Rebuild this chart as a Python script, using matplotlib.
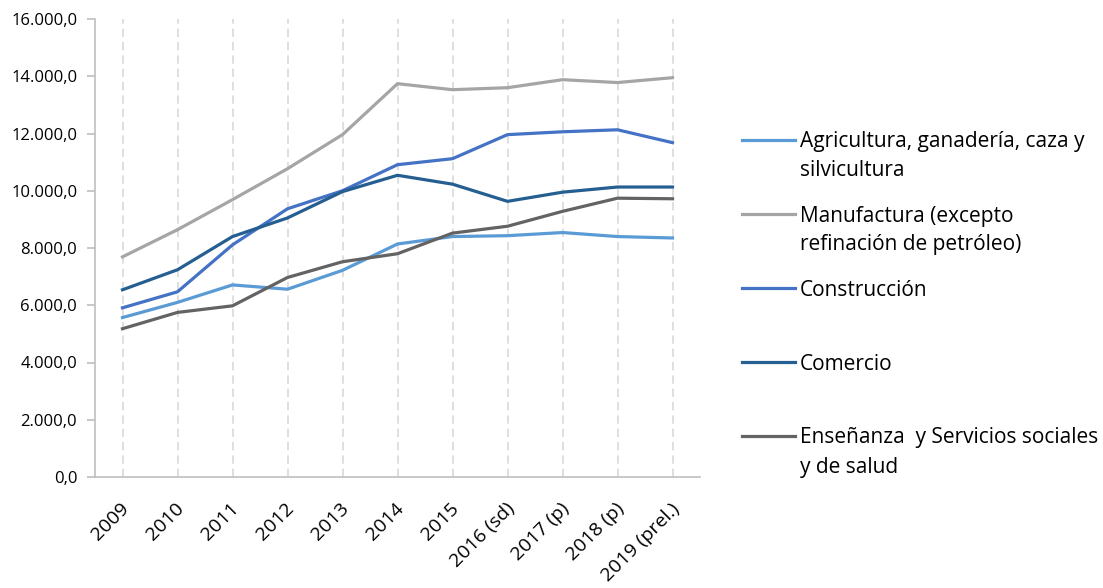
import matplotlib
matplotlib.use("Agg")
import matplotlib.pyplot as plt
import matplotlib.transforms as mtransforms
from matplotlib.lines import Line2D
from matplotlib.ticker import FuncFormatter, MultipleLocator

years = ["2009", "2010", "2011", "2012", "2013", "2014", "2015",
         "2016 (sd)", "2017 (p)", "2018 (p)", "2019 (prel.)"]

agricultura = [5570, 6100, 6710, 6560, 7220, 8140, 8400, 8430, 8540, 8400, 8350]
manufactura = [7690, 8640, 9690, 10770, 11960, 13740, 13530, 13600, 13880, 13780, 13950]
construccion = [5910, 6470, 8110, 9370, 10000, 10910, 11120, 11960, 12060, 12130, 11680]
comercio = [6540, 7240, 8400, 9050, 9970, 10540, 10230, 9630, 9950, 10130, 10130]
ensenanza = [5180, 5750, 5980, 6970, 7520, 7800, 8520, 8760, 9280, 9740, 9720]

series = [
    ("Agricultura, ganadería, caza y\nsilvicultura", agricultura, "#5B9BD5"),
    ("Manufactura (excepto\nrefinación de petróleo)", manufactura, "#A5A5A5"),
    ("Construcción", construccion, "#4472C4"),
    ("Comercio", comercio, "#255E91"),
    ("Enseñanza  y Servicios sociales\ny de salud", ensenanza, "#636363"),
]

plt.rcParams['font.family'] = ['Open Sans', 'DejaVu Sans']

W, H = 1103, 588
fig = plt.figure(figsize=(W / 100, H / 100), dpi=100)
ax = fig.add_axes([95 / W, 1 - 477 / H, (700 - 95) / W, (477 - 19) / H])

x = list(range(len(years)))
for label, vals, color in series:
    ax.plot(x, vals, color=color, lw=2.3, solid_joinstyle='round', zorder=3)

ax.set_xlim(-0.5, len(years) - 0.5)
ax.set_ylim(0, 16000)
ax.yaxis.set_major_locator(MultipleLocator(2000))
ax.yaxis.set_major_formatter(FuncFormatter(
    lambda v, p: f"{v:,.1f}".replace(",", "X").replace(".", ",").replace("X", ".")))

ax.set_xticks(x)
ax.set_xticklabels(years, rotation=45, ha='right', va='center',
                   rotation_mode='anchor', fontsize=14, color='#000000')
ax.tick_params(axis='x', length=0, pad=21)
offset = mtransforms.ScaledTranslation(4 / 100, 0, fig.dpi_scale_trans)
for lab in ax.get_xticklabels():
    lab.set_transform(lab.get_transform() + offset)
ax.tick_params(axis='y', length=5.8, width=1.2, color='#BFBFBF',
               labelsize=12, pad=7, labelcolor='#000000')

ax.grid(axis='x', color='#D9D9D9', linestyle=(0, (5, 3)), lw=1.2, zorder=1)
ax.grid(axis='y', visible=False)
for s in ['top', 'right']:
    ax.spines[s].set_visible(False)
for s in ['left', 'bottom']:
    ax.spines[s].set_color('#BFBFBF')
    ax.spines[s].set_linewidth(1.2)

# manual legend
ys = [140, 214, 288, 362, 436]
for (label, vals, color), yp in zip(series, ys):
    fy = 1 - yp / H
    fig.add_artist(Line2D([742 / W, 795 / W], [fy, fy], color=color, lw=2.3,
                          transform=fig.transFigure))
    for i, line in enumerate(label.split("\n")):
        fig.text(800 / W, 1 - (yp + 7.5 + 29 * i) / H, line, fontsize=15,
                 va='baseline', ha='left', color='#000000')

fig.savefig("out.png", dpi=100)
